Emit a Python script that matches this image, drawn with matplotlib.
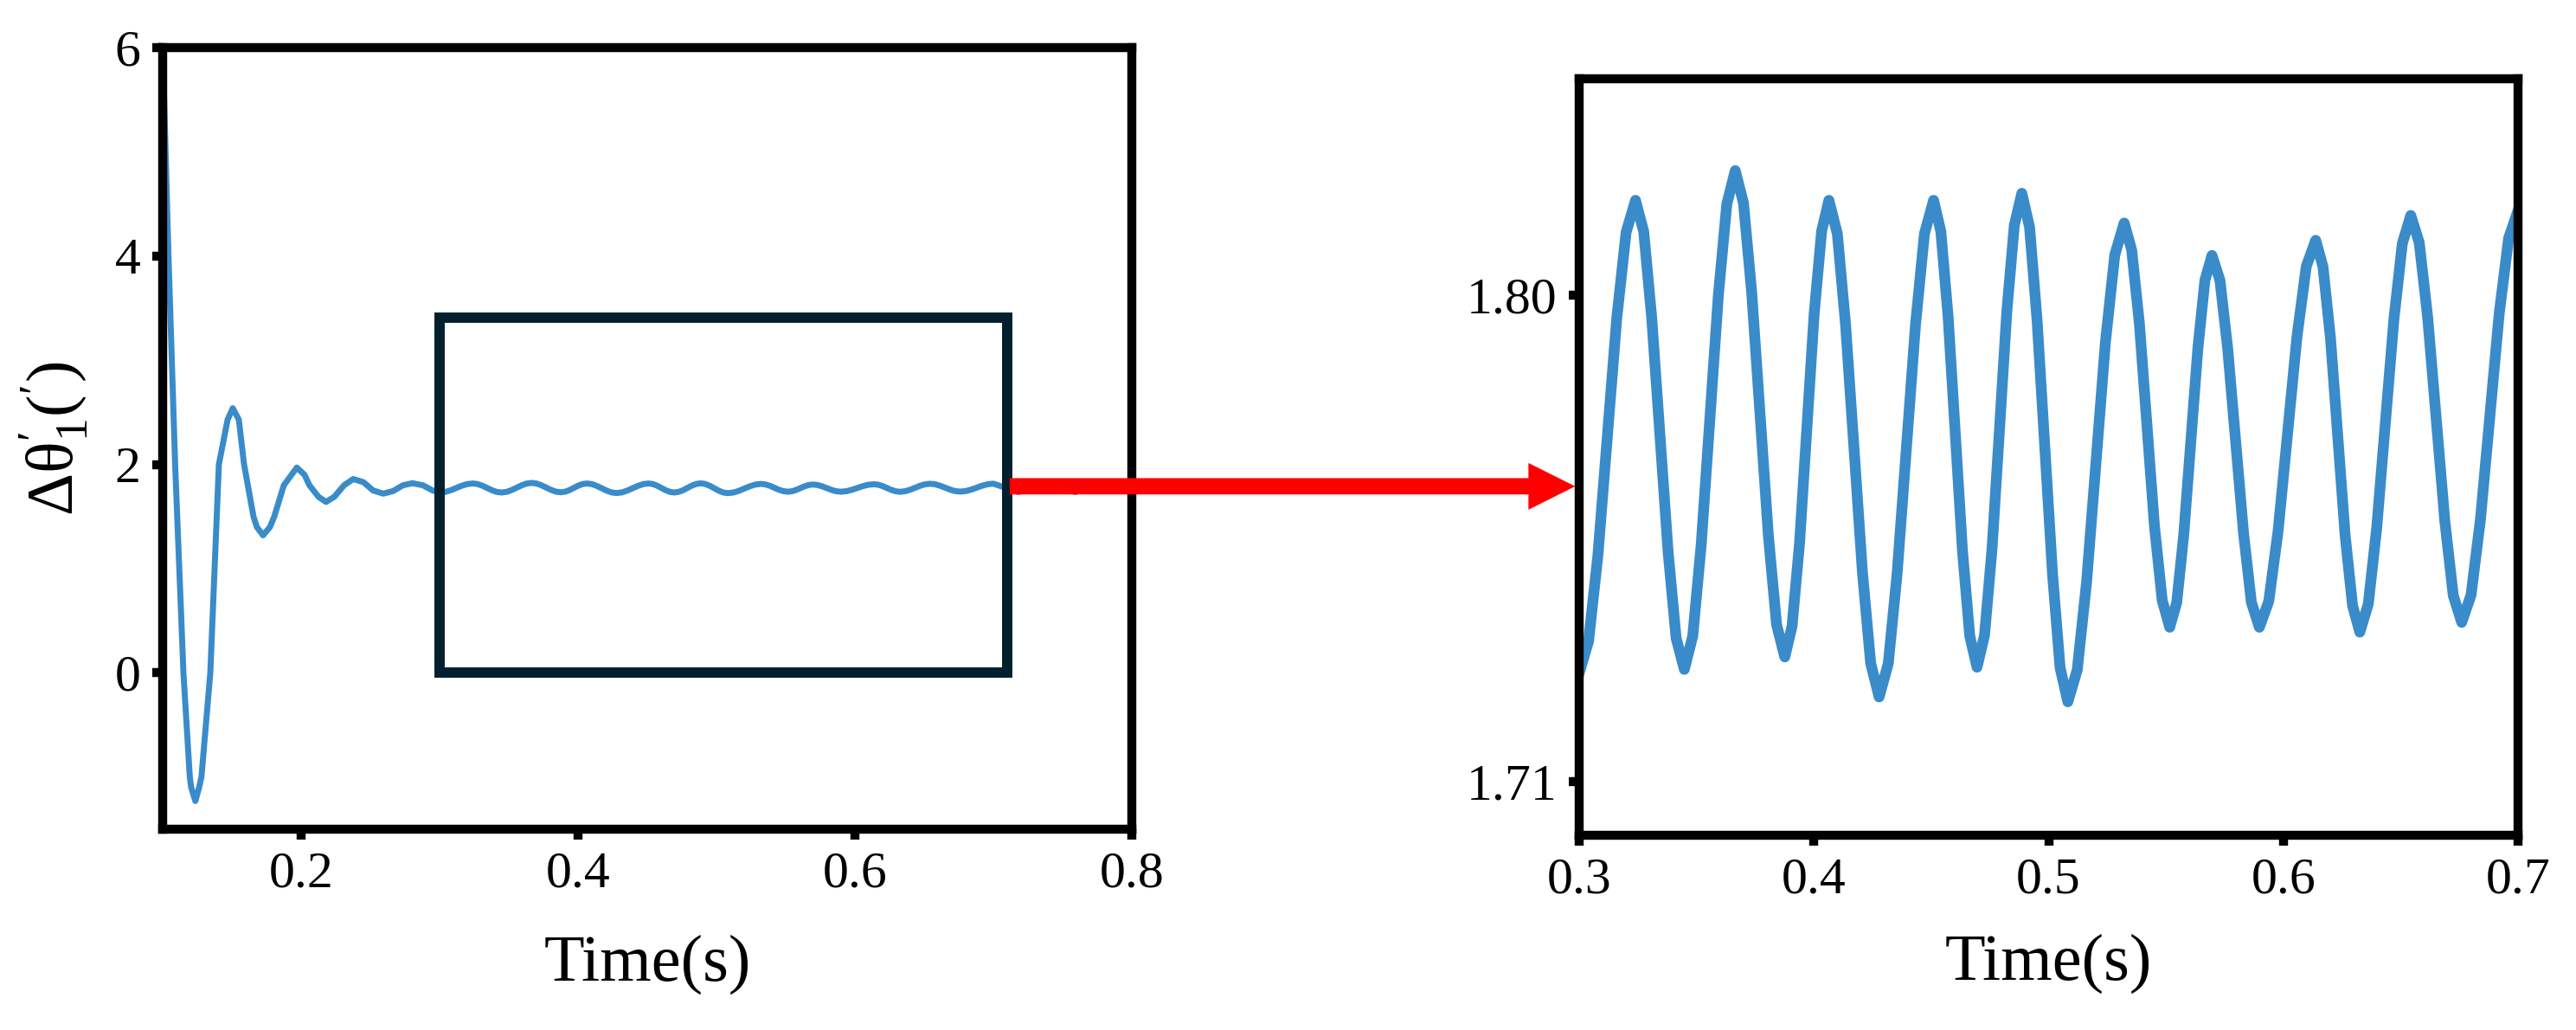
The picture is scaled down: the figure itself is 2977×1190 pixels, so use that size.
import matplotlib
matplotlib.use('Agg')
import matplotlib.pyplot as plt
from matplotlib.patches import Rectangle, ConnectionPatch
from matplotlib.transforms import blended_transform_factory

# --- values ---
# start-up transient (left panel, before the zoom window)
early_t = [0.1000, 0.1042, 0.1090, 0.1150, 0.1196, 0.1206, 0.1236, 0.1263,
           0.1280, 0.1344, 0.1406, 0.1469, 0.1506, 0.1550, 0.1588, 0.1656,
           0.1680, 0.1725, 0.1775, 0.1806, 0.1875, 0.1930, 0.1969, 0.2025,
           0.2060, 0.2125, 0.2180, 0.2240, 0.2310, 0.2376, 0.2450, 0.2520,
           0.2594, 0.2665, 0.2735, 0.2804, 0.2880, 0.2950]
early_y = [6.00, 4.00, 2.00, 0.00, -1.00, -1.10, -1.23, -1.10,
           -1.00, 0.00, 2.00, 2.43, 2.54, 2.43, 2.00, 1.50,
           1.40, 1.32, 1.40, 1.50, 1.80, 1.90, 1.97, 1.90,
           1.80, 1.69, 1.64, 1.69, 1.80, 1.86, 1.83, 1.75,
           1.72, 1.745, 1.80, 1.82, 1.80, 1.75]

# steady ripple inside the zoom window (right panel)
zoom_t = [0.3000, 0.3040, 0.3080, 0.3160, 0.3200,
          0.3240, 0.3275, 0.3309, 0.3379, 0.3413,
          0.3448, 0.3484, 0.3520, 0.3593, 0.3629,
          0.3665, 0.3700, 0.3735, 0.3806, 0.3841,
          0.3876, 0.3907, 0.3939, 0.4001, 0.4033,
          0.4064, 0.4100, 0.4135, 0.4207, 0.4242,
          0.4278, 0.4317, 0.4355, 0.4433, 0.4471,
          0.4510, 0.4541, 0.4572, 0.4633, 0.4664,
          0.4695, 0.4727, 0.4759, 0.4822, 0.4854,
          0.4886, 0.4919, 0.4951, 0.5017, 0.5049,
          0.5082, 0.5122, 0.5162, 0.5242, 0.5282,
          0.5322, 0.5354, 0.5387, 0.5451, 0.5484,
          0.5516, 0.5546, 0.5576, 0.5636, 0.5666,
          0.5696, 0.5730, 0.5763, 0.5831, 0.5864,
          0.5898, 0.5938, 0.5978, 0.6058, 0.6098,
          0.6138, 0.6169, 0.6201, 0.6263, 0.6295,
          0.6326, 0.6362, 0.6398, 0.6471, 0.6507,
          0.6543, 0.6579, 0.6615, 0.6688, 0.6724,
          0.6760, 0.6800, 0.6840, 0.6920, 0.6960,
          0.7000]
zoom_y = [1.7300, 1.7359, 1.7519, 1.7956, 1.8116,
          1.8175, 1.8117, 1.7958, 1.7524, 1.7365,
          1.7307, 1.7369, 1.7538, 1.7999, 1.8168,
          1.8230, 1.8170, 1.8005, 1.7555, 1.7390,
          1.7330, 1.7387, 1.7541, 1.7964, 1.8118,
          1.8175, 1.8113, 1.7945, 1.7486, 1.7318,
          1.7256, 1.7318, 1.7486, 1.7945, 1.8113,
          1.8175, 1.8117, 1.7959, 1.7527, 1.7369,
          1.7311, 1.7370, 1.7530, 1.7969, 1.8129,
          1.8188, 1.8125, 1.7953, 1.7482, 1.7310,
          1.7247, 1.7306, 1.7469, 1.7912, 1.8074,
          1.8133, 1.8083, 1.7946, 1.7572, 1.7435,
          1.7385, 1.7431, 1.7557, 1.7901, 1.8027,
          1.8073, 1.8027, 1.7901, 1.7557, 1.7431,
          1.7385, 1.7433, 1.7564, 1.7922, 1.8053,
          1.8101, 1.8052, 1.7920, 1.7557, 1.7425,
          1.7376, 1.7428, 1.7569, 1.7954, 1.8095,
          1.8147, 1.8097, 1.7959, 1.7582, 1.7444,
          1.7394, 1.7445, 1.7585, 1.7966, 1.8105,
          1.8156]

# remainder after the window (mostly under the arrow)
tail_t = [0.718, 0.739, 0.759, 0.780]
tail_y = [1.735, 1.815, 1.735, 1.812]

left_xticks = [0.2, 0.4, 0.6, 0.8]
left_yticks = [0, 2, 4, 6]
right_xticks = [0.3, 0.4, 0.5, 0.6, 0.7]
right_yticks = [1.71, 1.80]
right_yticklabels = ['1.71', '1.80']

box_t = [0.30, 0.71]
box_y = [0.0, 3.41]
arrow_level = 1.79

LINE_COLOR = '#3a8bca'
BOX_COLOR = '#04202f'

plt.rcParams['font.family'] = ['Liberation Serif', 'DejaVu Serif']
plt.rcParams['mathtext.fontset'] = 'custom'
plt.rcParams['mathtext.rm'] = 'Liberation Serif'
plt.rcParams['mathtext.it'] = 'Liberation Serif:italic'

W, H = 2977, 1190
fig = plt.figure(figsize=(W / 100, H / 100), dpi=100)


# axes boxes in pixels: left, top, right, bottom
def px_axes(l, t, r, b):
    return fig.add_axes([l / W, 1 - b / H, (r - l) / W, (b - t) / H])


ax1 = px_axes(188, 55, 1308, 958)
ax2 = px_axes(1825, 91, 2910, 965)


def style(ax):
    for s in ax.spines.values():
        s.set_linewidth(7.5)
        s.set_color('black')
    ax.tick_params(direction='out', length=8.5, width=7.5, labelsize=43,
                   pad=10, color='black')


left_t = early_t + zoom_t + tail_t
left_y = early_y + zoom_y + tail_y
ax1.plot(left_t, left_y, color=LINE_COLOR, lw=5, solid_joinstyle='round', zorder=2)
ax1.add_patch(Rectangle((box_t[0], box_y[0]), box_t[1] - box_t[0], box_y[1] - box_y[0],
                        fill=False, edgecolor=BOX_COLOR, lw=8.6, zorder=3,
                        joinstyle='miter'))
ax1.set_xlim(0.1, 0.8)
ax1.set_ylim(-1.5, 6)
ax1.set_xticks(left_xticks)
ax1.set_xticklabels([f'{v:.1f}' for v in left_xticks])
ax1.set_yticks(left_yticks)
ax1.set_xlabel('Time(s)', fontsize=55)
ax1.xaxis.set_label_coords(0.5, -0.135)
ax1.set_ylabel(r'$\Delta\mathrm{\theta}^{\prime}_{1}(^{\prime})$', fontsize=55)
ax1.yaxis.set_label_coords(-0.075, 0.5)
style(ax1)

ax2.plot(zoom_t, zoom_y, color=LINE_COLOR, lw=9, solid_joinstyle='round')
ax2.set_xlim(0.3, 0.7)
ax2.set_ylim(1.70, 1.84)
ax2.set_xticks(right_xticks)
ax2.set_xticklabels([f'{v:.1f}' for v in right_xticks])
ax2.set_yticks(right_yticks)
ax2.set_yticklabels(right_yticklabels)
ax2.set_xlabel('Time(s)', fontsize=55)
ax2.xaxis.set_label_coords(0.5, -0.13)
style(ax2)

# red arrow from the zoom box to the right panel
arrow = ConnectionPatch(
    xyA=(box_t[1] + 0.002, arrow_level), coordsA=ax1.transData,
    xyB=(-0.005, arrow_level),
    coordsB=blended_transform_factory(ax2.transAxes, ax1.transData),
    arrowstyle='simple,head_length=3.8,head_width=3.8,tail_width=1.3',
    mutation_scale=10, color='red', lw=0.5, shrinkA=0, shrinkB=0)
fig.add_artist(arrow)

fig.savefig('out.png', dpi=100)
